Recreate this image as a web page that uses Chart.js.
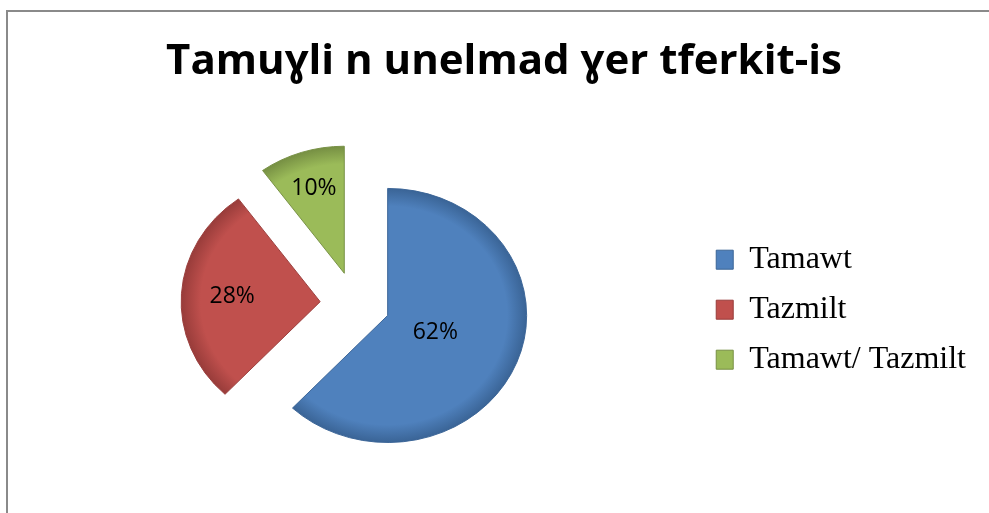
<!DOCTYPE html>
<html>
<head>
<meta charset="utf-8">
<script src="https://cdn.jsdelivr.net/npm/chart.js@4/dist/chart.umd.min.js"></script>
<style>
    html, body { margin: 0; padding: 0; background: #fff; overflow: hidden; }
    #wrap { position: relative; width: 989px; height: 513px; }
    #frame {
        position: absolute; left: 6px; top: 10px;
        width: 1100px; height: 700px;
        border: 2px solid #8a8a8a;
    }
    canvas { position: absolute; left: 0; top: 0; }
</style>
</head>
<body>
<div id="wrap">
    <div id="frame"></div>
    <canvas id="pieChart" width="989" height="513"></canvas>
</div>
<script>
// Pie data
const categories = ["Tamawt", "Tazmilt", "Tamawt/ Tazmilt"];
const shares = [62, 28, 10];
const sliceColors = ["#4F81BD", "#C0504D", "#9BBB59"];
const rimColors = ["#3A6496", "#983C3A", "#768F43"];

const EXPLODE = 35;      // px each slice is pulled out
const RADIUS = 139;
const SQUASH = 0.914;    // slight 3D tilt

const total = shares.reduce((a, b) => a + b, 0);

function sliceFill(ctx) {
    const i = ctx.dataIndex;
    const area = ctx.chart.chartArea;
    if (!area) return sliceColors[i];
    const cx = (area.left + area.right) / 2;
    const cy = (area.top + area.bottom) / 2;
    const g = ctx.chart.ctx.createRadialGradient(cx, cy, 0, cx, cy, RADIUS);
    g.addColorStop(0, sliceColors[i]);
    g.addColorStop(0.86, sliceColors[i]);
    g.addColorStop(1, rimColors[i]);
    return g;
}

// exploded, slightly squashed pie + percent labels
const explodedPie = {
    id: "explodedPie",
    afterLayout(chart) {
        // nudge title and legend to where the original had them
        chart.titleBlock.left += 10;
        chart.titleBlock.right += 10;
        chart.legend.top += 6;
        chart.legend.bottom += 6;
    },
    beforeDatasetsDraw(chart) {
        const ctx = chart.ctx;
        const arcs = chart.getDatasetMeta(0).data;
        const cx = arcs[0].x, cy = arcs[0].y;

        ctx.save();
        ctx.translate(cx, cy);
        ctx.scale(1, SQUASH);
        ctx.translate(-cx, -cy);
        arcs.forEach(arc => {
            const mid = (arc.startAngle + arc.endAngle) / 2;
            ctx.save();
            ctx.translate(Math.cos(mid) * EXPLODE, Math.sin(mid) * EXPLODE);
            arc.draw(ctx);
            ctx.restore();
        });
        ctx.restore();

        ctx.save();
        ctx.font = "23px 'Open Sans'";
        ctx.fillStyle = "#000";
        ctx.textAlign = "center";
        ctx.textBaseline = "middle";
        arcs.forEach((arc, i) => {
            const mid = (arc.startAngle + arc.endAngle) / 2;
            const half = arc.circumference / 2;
            const centroid = 2 * arc.outerRadius * Math.sin(half) / (3 * half);
            const dist = EXPLODE + centroid + 7;
            const x = cx + Math.cos(mid) * dist;
            const y = cy + Math.sin(mid) * dist * SQUASH;
            ctx.fillText(Math.round(shares[i] / total * 100) + "%", x, y);
        });
        ctx.restore();
        return false;
    }
};

new Chart(document.getElementById("pieChart"), {
    type: "pie",
    data: {
        labels: categories,
        datasets: [{
            data: shares,
            backgroundColor: sliceFill,
            borderColor: rimColors,
            borderWidth: 1
        }]
    },
    options: {
        responsive: false,
        animation: false,
        events: [],
        radius: RADIUS,
        layout: {
            padding: { left: 12, right: 13, top: 0, bottom: 5 }
        },
        plugins: {
            title: {
                display: true,
                text: "Tamuɣli n unelmad ɣer tferkit-is",
                color: "#000",
                font: { family: "'Open Sans', 'Noto Sans', sans-serif", size: 42, weight: "bold", lineHeight: 1.2 },
                padding: { top: 37, bottom: 12 }
            },
            legend: {
                position: "right",
                fullSize: false,
                labels: {
                    color: "#000",
                    boxWidth: 17,
                    boxHeight: 19,
                    padding: 18,
                    font: { family: "'Liberation Serif', 'Times New Roman', serif", size: 32 },
                    generateLabels(chart) {
                        return categories.map((name, i) => ({
                            text: name,
                            fillStyle: sliceColors[i],
                            strokeStyle: rimColors[i],
                            lineWidth: 1,
                            index: i
                        }));
                    }
                }
            },
            tooltip: { enabled: false }
        }
    },
    plugins: [explodedPie]
});
</script>
</body>
</html>
